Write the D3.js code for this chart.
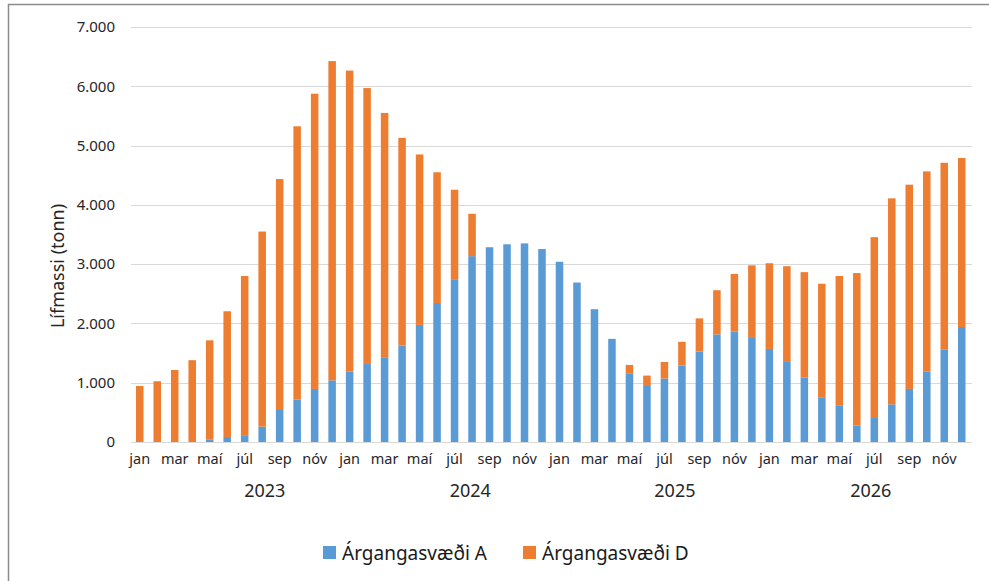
<!DOCTYPE html>
<html>
<head>
<meta charset="utf-8">
<script src="https://cdn.jsdelivr.net/npm/d3@7"></script>
<style>
  body { margin: 0; background: #fff; }
  text { font-family: "Noto Sans", "Open Sans", sans-serif; fill: #262626; }
</style>
</head>
<body>
<div id="chart"></div>
<script>
var months = ["jan", "feb", "mar", "apr", "maí", "jún", "júl", "ágú", "sep", "okt", "nóv", "des"];
var years = ["2023", "2024", "2025", "2026"];
var seriesNames = ["Árgangasvæði A", "Árgangasvæði D"];

// Árgangasvæði A, tonn, jan 2023 - des 2026
var areaA = [
  0, 0, 0, 0, 45, 85, 115, 260, 540, 715, 895, 1040,
  1185, 1315, 1430, 1625, 1975, 2345, 2735, 3135, 3285, 3335, 3350, 3255,
  3040, 2690, 2240, 1740, 1150, 945, 1070, 1290, 1525, 1815, 1860, 1755,
  1570, 1350, 1085, 745, 620, 275, 420, 635, 895, 1185, 1555, 1940
];
// Árgangasvæði D, tonn
var areaD = [
  945, 1025, 1215, 1380, 1670, 2120, 2685, 3290, 3895, 4610, 4980, 5385,
  5080, 4655, 4120, 3505, 2875, 2205, 1520, 715, 0, 0, 0, 0,
  0, 0, 0, 0, 150, 175, 280, 400, 560, 745, 975, 1225,
  1445, 1615, 1780, 1925, 2180, 2575, 3035, 3475, 3445, 3380, 3155, 2850
];
var yTicks = [0, 1000, 2000, 3000, 4000, 5000, 6000, 7000];
// month index (fractional) under which each year label sits
var yearLabelAt = [7.15, 6.9, 6.6, 5.8];

var svgWidth = 989;
var svgHeight = 581;
var margin = { top: 27, right: 18, bottom: 139, left: 131 };
var width = svgWidth - margin.left - margin.right;
var height = svgHeight - margin.top - margin.bottom;

var colors = ["#5B9BD5", "#ED7D31"];

var svg = d3.select("#chart")
  .append("svg")
  .attr("width", svgWidth)
  .attr("height", svgHeight);

// outer frame
svg.append("rect")
  .attr("x", 8.5)
  .attr("y", 4.5)
  .attr("width", 1000)
  .attr("height", 600)
  .attr("fill", "none")
  .attr("stroke", "#8c8c8c")
  .attr("stroke-width", 1.5);

var chart = svg.append("g")
  .attr("transform", "translate(" + margin.left + "," + margin.top + ")");

var data = areaA.map(function(a, i) {
  return { idx: i, month: months[i % 12], A: a, D: areaD[i] };
});

var xScale = d3.scaleBand()
  .domain(data.map(function(d) { return d.idx; }))
  .range([0, 839.5])
  .paddingInner(0.57)
  .paddingOuter(0.285);

var yScale = d3.scaleLinear()
  .domain([0, 7000])
  .range([height, 0]);

var locale = d3.formatLocale({ decimal: ",", thousands: ".", grouping: [3], currency: ["", ""] });
var fmt = locale.format(",");

// gridlines
chart.append("g")
  .selectAll("line")
  .data(yTicks)
  .enter().append("line")
  .attr("x1", 0)
  .attr("x2", 841)
  .attr("y1", function(d) { return Math.round(yScale(d)) + 0.5; })
  .attr("y2", function(d) { return Math.round(yScale(d)) + 0.5; })
  .attr("stroke", "#d9d9d9")
  .attr("stroke-width", 1);

// stacked bars
var stack = d3.stack().keys(["A", "D"]);
var layers = stack(data);

chart.selectAll(".layer")
  .data(layers)
  .enter().append("g")
  .attr("class", "layer")
  .attr("fill", function(d, i) { return colors[i]; })
  .selectAll("rect")
  .data(function(d) { return d; })
  .enter().append("rect")
  .attr("x", function(d) { return xScale(d.data.idx); })
  .attr("width", xScale.bandwidth())
  .attr("y", function(d) { return yScale(d[1]); })
  .attr("height", function(d) { return yScale(d[0]) - yScale(d[1]); });

// y axis
var leftAxis = d3.axisLeft(yScale)
  .tickValues(yTicks)
  .tickSize(0)
  .tickPadding(16)
  .tickFormat(fmt);

var yAxis = chart.append("g").call(leftAxis);
yAxis.select(".domain").remove();
yAxis.selectAll("text")
  .style("font-size", "15px")
  .style("fill", "#262626");

// x axis month labels
var bottomAxis = d3.axisBottom(xScale)
  .tickSize(0)
  .tickPadding(12)
  .tickFormat(function(i) { return i % 2 === 0 ? months[i % 12] : ""; });

var xAxis = chart.append("g")
  .attr("transform", "translate(0," + height + ")")
  .call(bottomAxis);
xAxis.select(".domain").remove();
xAxis.selectAll("text")
  .style("font-size", "14.5px")
  .style("fill", "#262626");

// year labels
var step = xScale.step();
chart.append("g")
  .selectAll("text")
  .data(years)
  .enter().append("text")
  .attr("x", function(d, i) {
    return xScale(i * 12) + xScale.bandwidth() / 2 + yearLabelAt[i] * step;
  })
  .attr("y", height + 55)
  .attr("text-anchor", "middle")
  .style("font-size", "18px")
  .text(function(d) { return d; });

// y axis title
chart.append("text")
  .attr("transform", "rotate(-90)")
  .attr("x", -(266 - margin.top))
  .attr("y", 64 - margin.left)
  .attr("text-anchor", "middle")
  .style("font-size", "18px")
  .text("Lífmassi (tonn)");

// legend
var legendX = [323, 523];
var legend = svg.append("g");
seriesNames.forEach(function(name, i) {
  legend.append("rect")
    .attr("x", legendX[i])
    .attr("y", 546)
    .attr("width", 13)
    .attr("height", 13)
    .attr("fill", colors[i]);
  legend.append("text")
    .attr("x", legendX[i] + 19)
    .attr("y", 560)
    .style("font-size", "19px")
    .style("fill", "#1a1a1a")
    .text(name);
});
</script>
</body>
</html>
